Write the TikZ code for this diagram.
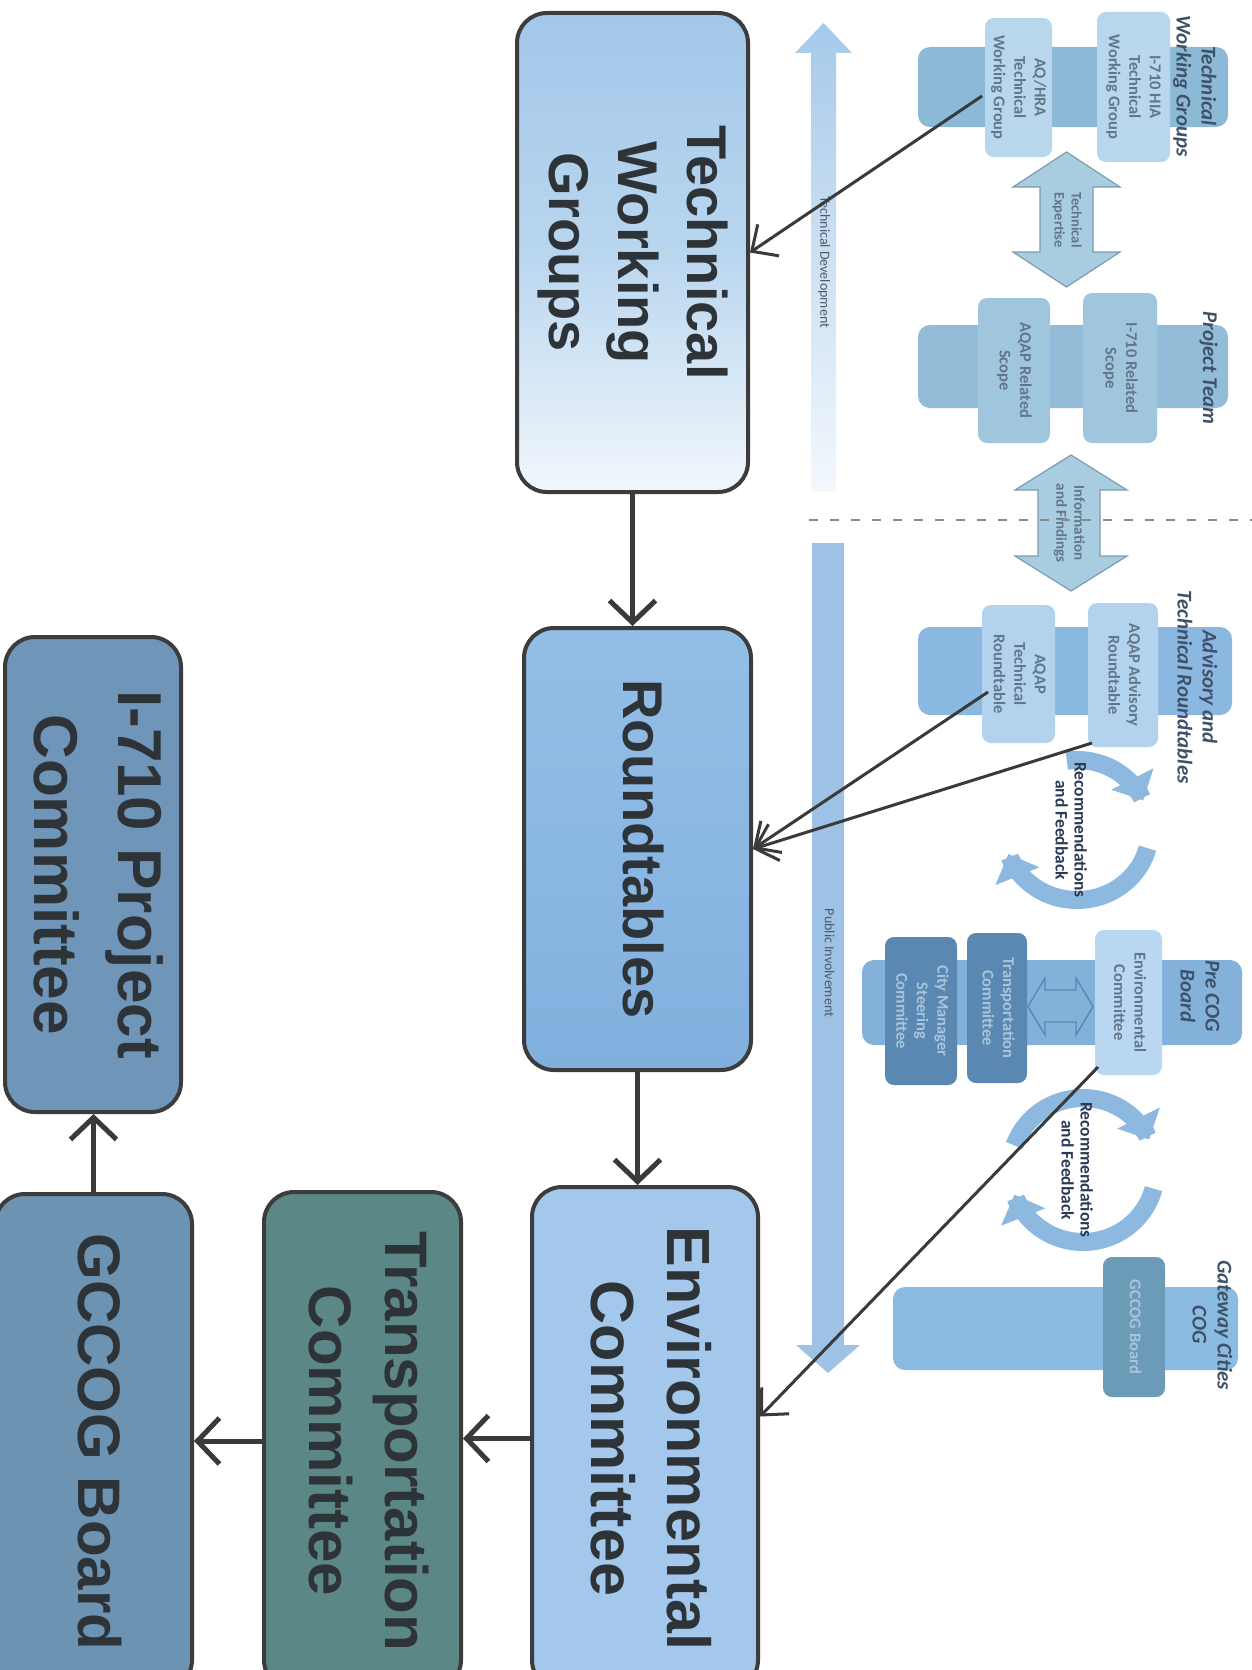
\documentclass[tikz,border=0pt]{standalone}
\usepackage{fontspec}
\usepackage{graphicx}
\setmainfont{Liberation Sans}
\newfontfamily\calfont{Carlito}
\usetikzlibrary{arrows.meta,calc}
\newcommand{\rtext}[1]{\rotatebox{-90}{\begin{tabular}{@{}c@{}}#1\end{tabular}}}
\definecolor{boxline}{HTML}{3C3C3C}
\definecolor{maintxt}{HTML}{2E3338}
\definecolor{twgtop}{HTML}{A3C7E9}
\definecolor{twgmid}{HTML}{B9D6EF}
\definecolor{twgbot}{HTML}{F2F7FC}
\definecolor{rttop}{HTML}{93BEE7}
\definecolor{rtbot}{HTML}{82B0DE}
\definecolor{envfill}{HTML}{A3C8EC}
\definecolor{transfill}{HTML}{5B8786}
\definecolor{gccogfill}{HTML}{6D93B2}
\definecolor{ifill}{HTML}{6F95B8}
\definecolor{band1}{HTML}{8CBAD6}
\definecolor{sbox1}{HTML}{B8D6EC}
\definecolor{band2}{HTML}{92BCD8}
\definecolor{sbox2}{HTML}{A0C6DE}
\definecolor{band3}{HTML}{8BB8E0}
\definecolor{sbox3}{HTML}{B2D2EE}
\definecolor{band4}{HTML}{83B1DA}
\definecolor{envs}{HTML}{B9D7F1}
\definecolor{darkbox}{HTML}{5A88B2}
\definecolor{band5}{HTML}{8BBBE0}
\definecolor{gcs}{HTML}{6B9BB7}
\definecolor{titlec}{HTML}{3E5169}
\definecolor{stxt}{HTML}{627689}
\definecolor{darktxt}{HTML}{A9C4DD}
\definecolor{recc}{HTML}{8DB9E0}
\definecolor{rectxt}{HTML}{2A3A55}
\definecolor{dblfill}{HTML}{A8CCE0}
\definecolor{dbldraw}{HTML}{7C9DAE}
\definecolor{tdtop}{HTML}{A6C9EA}
\definecolor{tdbot}{HTML}{F3F8FC}
\definecolor{pubfill}{HTML}{9DC2E6}
\definecolor{linedark}{HTML}{3A3A3A}
\definecolor{dashc}{HTML}{8A8A8A}
\definecolor{arrtxt}{HTML}{4E5A66}
\begin{document}
\begin{tikzpicture}[x=1pt,y=-1pt,
  mainbox/.style={draw=boxline,line width=4pt,rounded corners=30pt,inner sep=0pt,text=maintxt},
  flow/.style={draw=linedark,line width=5pt,-{Straight Barb[length=22pt,width=46pt]}},
  feed/.style={draw=linedark,line width=3pt,-{Straight Barb[length=20pt,width=38pt]}},
  band/.style={rounded corners=12pt,inner sep=0pt},
  sbox/.style={rounded corners=9pt,inner sep=0pt,text=stxt,font=\calfont\bfseries\fontsize{16.5}{20.5}\selectfont},
  darksbox/.style={sbox,fill=darkbox,text=darktxt},
  grptitle/.style={text=titlec,font=\calfont\bfseries\itshape\fontsize{21}{25}\selectfont,inner sep=0pt},
  recarrow/.style={line width=18pt,draw=recc,-{Triangle[length=24pt,width=46pt]}},
  rectext/.style={text=rectxt,font=\calfont\bfseries\fontsize{17.5}{19}\selectfont,inner sep=0pt},
  dblarrow/.style={fill=dblfill,draw=dbldraw,line width=1.2pt},
  arrlabel/.style={text=arrtxt,font=\calfont\fontsize{14}{16}\selectfont,inner sep=0pt},
  dashline/.style={draw=dashc,line width=1.6pt,dash pattern=on 9pt off 12pt}
]
\useasboundingbox (0,0) rectangle (1252,1670);
\fill[white] (0,0) rectangle (1252,1670);

% ---------- Technical Working Groups (right) ----------
\node[band,fill=band1,minimum width=310pt,minimum height=80pt] (band1) at (1073,87) {};
\node[sbox,fill=sbox1,minimum width=73pt,minimum height=150pt] (hia) at (1133.5,87) {\rtext{I-710 HIA\\Technical\\Working Group}};
\node[sbox,fill=sbox1,minimum width=67pt,minimum height=139pt] (aqhra) at (1018.5,87.5) {\rtext{AQ/HRA\\Technical\\Working Group}};
\node[grptitle] (t1) at (1194,86) {\rtext{Technical\\Working Groups}};

\filldraw[dblarrow] (1066.5,152) -- (1120,187) -- (1093,187) -- (1093,252) -- (1120,252) -- (1066.5,287) -- (1013,252) -- (1040,252) -- (1040,187) -- (1013,187) -- cycle;
\node[arrlabel,font=\calfont\bfseries\fontsize{14.5}{17}\selectfont,text=stxt] (texp) at (1066.5,220) {\rtext{Technical\\Expertise}};

% ---------- Project Team ----------
\node[band,fill=band2,minimum width=310pt,minimum height=83pt] (band2) at (1073,366.5) {};
\node[sbox,fill=sbox2,minimum width=74pt,minimum height=150pt] (iscope) at (1120,368) {\rtext{I-710 Related\\Scope}};
\node[sbox,fill=sbox2,minimum width=72pt,minimum height=145pt] (ascope) at (1014,370.5) {\rtext{AQAP Related\\Scope}};
\node[grptitle] (t2) at (1208,368) {\rtext{Project Team}};

\filldraw[dblarrow] (1071,455) -- (1127,490) -- (1100,490) -- (1100,556) -- (1127,556) -- (1071,591) -- (1015,556) -- (1038,556) -- (1038,490) -- (1015,490) -- cycle;
\node[arrlabel,font=\calfont\bfseries\fontsize{15}{18}\selectfont,text=stxt] (tinfo) at (1069,523) {\rtext{Information\\and Findings}};

\draw[dashline] (809,520) -- (1252,520);

% ---------- Advisory and Technical Roundtables ----------
\node[band,fill=band3,minimum width=314pt,minimum height=88pt] (band3) at (1075,671) {};
\node[sbox,fill=sbox3,minimum width=70pt,minimum height=144pt] (advrt) at (1123,675) {\rtext{AQAP Advisory\\Roundtable}};
\node[sbox,fill=sbox3,minimum width=73pt,minimum height=138pt] (techrt) at (1018.5,674) {\rtext{AQAP\\Technical\\Roundtable}};
\node[grptitle] (t3) at (1195,687) {\rtext{Advisory and\\Technical Roundtables}};

\draw[recarrow] plot[domain=262:335,samples=30,smooth] ({1077+73*cos(\x)},{830+70*sin(\x)});
\draw[recarrow] plot[domain=15:160,samples=40,smooth] ({1077+73*cos(\x)},{830+70*sin(\x)});
\node[rectext] (rec1) at (1069,830) {\rtext{Recommendations\\and Feedback}};

% ---------- Pre COG Board ----------
\node[band,fill=band4,minimum width=380pt,minimum height=85pt] (band4) at (1052,1002.5) {};
\node[sbox,fill=envs,minimum width=67pt,minimum height=145pt] (envs) at (1128.5,1002.5) {\rtext{Environmental\\Committee}};
\node[darksbox,minimum width=60pt,minimum height=150pt] (transs) at (997,1008) {\rtext{Transportation\\Committee}};
\node[darksbox,minimum width=72pt,minimum height=148pt] (citys) at (921,1011) {\rtext{City Manager\\Steering\\Committee}};
\filldraw[fill=band4,draw=darkbox,line width=1.4pt] (1028,1006.5) -- (1045,978) -- (1045,990) -- (1076,990) -- (1076,978) -- (1093,1006.5) -- (1076,1035) -- (1076,1022) -- (1045,1022) -- (1045,1035) -- cycle;
\node[grptitle] (t4) at (1198,996) {\rtext{Pre COG\\Board}};

\draw[recarrow] plot[domain=200:335,samples=40,smooth] ({1083+73*cos(\x)},{1170+72*sin(\x)});
\draw[recarrow] plot[domain=15:160,samples=40,smooth] ({1083+73*cos(\x)},{1170+72*sin(\x)});
\node[rectext] (rec2) at (1075,1170) {\rtext{Recommendations\\and Feedback}};

% ---------- Gateway Cities COG ----------
\node[band,fill=band5,minimum width=345pt,minimum height=83pt] (band5) at (1065.5,1328.5) {};
\node[sbox,fill=gcs,text=darktxt,minimum width=62pt,minimum height=140pt] (gcs) at (1134,1327) {\rtext{GCCOG Board}};
\node[grptitle] (t5) at (1210,1325) {\rtext{Gateway Cities\\COG}};

% ---------- vertical arrows ----------
\shade[top color=tdtop,bottom color=tdbot] (823.5,23) -- (852,53) -- (836,53) -- (836,492) -- (811,492) -- (811,53) -- (795,53) -- cycle;
\node[arrlabel] (tdev) at (823.5,262) {\rtext{Technical Development}};
\fill[pubfill] (812,543) -- (844,543) -- (844,1345) -- (860,1345) -- (828,1373) -- (796,1345) -- (812,1345) -- cycle;
\node[arrlabel] (pub) at (828,963) {\rtext{Public Involvement}};

% ---------- main flow boxes ----------
\node[mainbox,top color=twgtop,bottom color=twgbot,middle color=twgmid,minimum width=231pt,minimum height=479pt,
      font=\bfseries\fontsize{56}{69}\selectfont] (twg) at (632.5,252.5) {\rtext{Technical\\Working\\Groups}};
\node[mainbox,top color=rttop,bottom color=rtbot,minimum width=227pt,minimum height=442pt,
      font=\bfseries\fontsize{56}{69}\selectfont] (rt) at (637.5,849) {\rtext{Roundtables}};
\node[mainbox,fill=envfill,minimum width=226pt,minimum height=503pt,
      font=\bfseries\fontsize{61}{76}\selectfont] (env) at (645,1438.5) {\rtext{Environmental\\Committee}};
\node[mainbox,fill=transfill,minimum width=197pt,minimum height=498pt,
      font=\bfseries\fontsize{60}{76}\selectfont] (trans) at (362.5,1441) {\rtext{Transportation\\Committee}};
\node[mainbox,fill=gccogfill,minimum width=197pt,minimum height=496pt,
      font=\bfseries\fontsize{60}{76}\selectfont] (gccog) at (93.5,1442) {\rtext{GCCOG Board}};
\node[mainbox,fill=ifill,minimum width=176pt,minimum height=475pt,
      font=\bfseries\fontsize{62}{84}\selectfont] (i710) at (93,874.5) {\rtext{I-710 Project\\Committee}};

% ---------- connectors ----------
\draw[flow] (twg.south) -- (twg.south |- rt.north);
\draw[flow] (rt.south) -- (rt.south |- env.north);
\draw[flow] (env.west) -- (env.west -| trans.east);
\draw[flow] (trans.west) -- (trans.west -| gccog.east);
\draw[flow] (gccog.north) -- (gccog.north |- i710.south);

\coordinate (f1) at (982,96);
\coordinate (f2) at (988,692);
\coordinate (f3) at (1092,743);
\coordinate (f4) at (1098,1067);
\draw[feed] (f1) -- (twg.east);
\draw[feed] (f2) -- (rt.east);
\draw[feed] (f3) -- (rt.east);
\draw[feed] (f4) -- ($(env.east)+(0,-22)$);
\end{tikzpicture}
\end{document}
